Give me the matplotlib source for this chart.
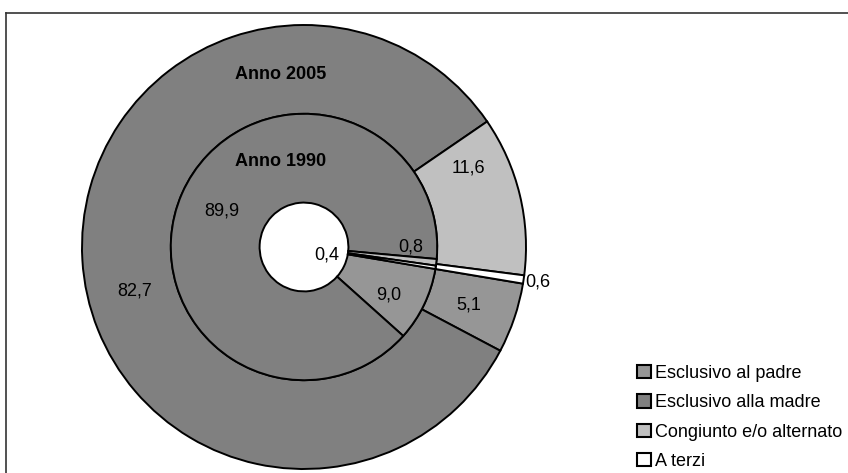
import matplotlib
matplotlib.use("Agg")
import matplotlib.pyplot as plt
from matplotlib.patches import Patch
from matplotlib.lines import Line2D

plt.rcParams['font.family'] = ['Liberation Sans', 'DejaVu Sans']

# dati (percentuali)
categorie = ['Esclusivo al padre', 'Esclusivo alla madre',
             'Congiunto e/o alternato', 'A terzi']
anno_2005 = [5.1, 82.7, 11.6, 0.6]
anno_1990 = [9.0, 89.9, 0.8, 0.4]
colori = ['#969696', '#808080', '#C0C0C0', '#FFFFFF']

W, H = 848, 473
fig = plt.figure(figsize=(W / 100, H / 100), dpi=100)

# pie centrata in (304, 247) px, raggio 222 px
cx, cy, r = 304, 247, 222
ax = fig.add_axes([(cx - r) / W, (H - cy - r) / H, 2 * r / W, 2 * r / H])
ax.set_xlim(-1, 1); ax.set_ylim(-1, 1); ax.set_aspect('equal'); ax.axis('off')

wp = dict(width=0.4, edgecolor='black', linewidth=1.4)
ax.pie(anno_2005, radius=1.0, colors=colori, startangle=-9.5,
       counterclock=False, wedgeprops=wp)
ax.pie(anno_1990, radius=0.6, colors=colori, startangle=-9.5,
       counterclock=False, wedgeprops=wp)
ax.set_xlim(-1, 1); ax.set_ylim(-1, 1)

fmt = lambda v: f'{v:.1f}'.replace('.', ',')
fs = 13
# etichette (posizioni in unita' del raggio)
pos_2005 = [(0.743, -0.261), (-0.761, -0.200), (0.739, 0.356), (1.054, -0.158)]
pos_1990 = [(0.383, -0.216), (-0.369, 0.162), (0.482, 0.0), (0.104, -0.036)]
for v, (x, y) in zip(anno_2005, pos_2005):
    ax.text(x, y, fmt(v), ha='center', va='center', fontsize=fs)
for v, (x, y) in zip(anno_1990, pos_1990):
    ax.text(x, y, fmt(v), ha='center', va='center', fontsize=fs)
ax.text(-0.104, 0.775, 'Anno 2005', ha='center', va='center', fontsize=fs, fontweight='bold')
ax.text(-0.104, 0.387, 'Anno 1990', ha='center', va='center', fontsize=fs, fontweight='bold')

handles = [Patch(facecolor=c, edgecolor='black', linewidth=1.5) for c in colori]
fig.legend(handles, categorie, loc='upper left', bbox_to_anchor=(637 / W, 1 - 365 / H),
           frameon=False, fontsize=fs, handlelength=0.75, handleheight=0.75,
           handletextpad=0.25, labelspacing=0.68, borderpad=0, borderaxespad=0)

# cornice
fig.add_artist(Line2D([6 / W, 1.0], [1 - 13 / H, 1 - 13 / H], color='#333333', lw=1.2))
fig.add_artist(Line2D([6 / W, 6 / W], [0, 1 - 13 / H], color='#333333', lw=1.2))

fig.savefig('out.png', dpi=100)
